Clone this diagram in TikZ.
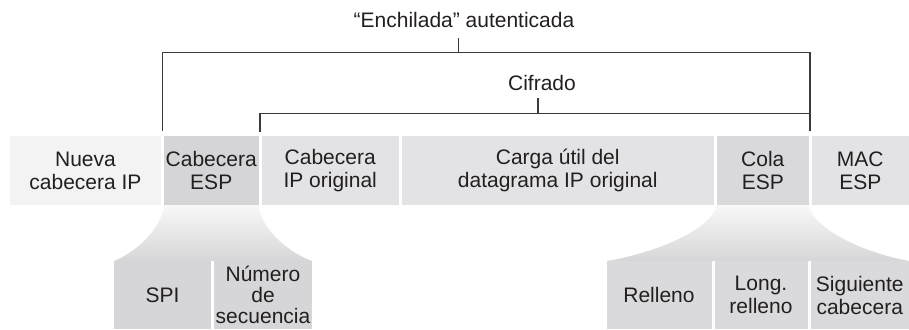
\documentclass[tikz,border=0pt]{standalone}
\usepackage{fontspec}
\setmainfont{Liberation Sans}
\definecolor{cNueva}{HTML}{F3F3F4}
\definecolor{cEsp}{HTML}{D5D5D7}
\definecolor{cLight}{HTML}{E3E3E5}
\definecolor{cCola}{HTML}{D9D9DB}
\definecolor{cSubL}{HTML}{D6D6D8}
\definecolor{cSubR}{HTML}{DADADC}
\definecolor{cTxt}{HTML}{231F20}
\definecolor{cLine}{HTML}{3A3A3A}
\definecolor{cFunTop}{HTML}{F8F8F8}
\definecolor{cFunBot}{HTML}{D6D6D8}
\begin{document}
\begin{tikzpicture}[x=1pt,y=-1pt,
  lbl/.style={font=\fontsize{21}{23}\selectfont, text=cTxt, align=center, inner sep=0pt},
  cell/.style={lbl, minimum height=69pt, outer sep=0pt},
  sub/.style={lbl, minimum height=68pt, outer sep=0pt},
  brk/.style={draw=cLine, line width=1.2pt}]
\useasboundingbox (0,0) rectangle (909,329);
% funnels
\shade[top color=cFunTop, bottom color=cFunBot]
  (164,205) .. controls (161,232) and (132,254) .. (114,261)
  -- (312,261) .. controls (292,254) and (262,232) .. (258.5,205) -- cycle;
\shade[top color=cFunTop, bottom color=cFunBot]
  (717,205) .. controls (710,232) and (650,254) .. (606.5,261)
  -- (909,261) .. controls (870,254) and (815,232) .. (808.5,205) -- cycle;
% main bar
\node[cell, fill=cNueva, minimum width=151pt] (nueva) at (85.5,170.5) {Nueva\\cabecera IP};
\node[cell, fill=cEsp, minimum width=94.5pt] (espcab) at (211.25,170.5) {Cabecera\\ESP};
\node[cell, fill=cLight, minimum width=137.5pt] (ipcab) at (330.25,170.5) {Cabecera\\IP original};
\node[cell, fill=cLight, minimum width=312.5pt] (carga) at (557.75,170.5) {Carga útil del\\datagrama IP original};
\node[cell, fill=cCola, minimum width=91.5pt] (cola) at (762.75,170.5) {Cola\\ESP};
\node[cell, fill=cLight, minimum width=97.5pt] (mac) at (860.25,170.5) {MAC\\ESP};
% sub fields
\node[sub, fill=cSubL, minimum width=97pt] (spi) at (162.5,295) {SPI};
\node[sub, fill=cSubL, minimum width=98pt, font=\fontsize{21}{21}\selectfont] (num) at (263,295) {Número\\de\\secuencia};
\node[sub, fill=cSubR, minimum width=105pt] (rell) at (659,295) {Relleno};
\node[sub, fill=cSubR, minimum width=93pt] (long) at (761,295) {Long.\\relleno};
\node[sub, fill=cSubR, minimum width=98.5pt] (sig) at (859.75,295) {Siguiente\\cabecera};
% brackets
\node[lbl, anchor=base] (auth) at (464,27.5) {“Enchilada” autenticada};
\node[lbl, anchor=base] (cif) at (542,90) {Cifrado};
\coordinate (aL) at (162.5,131);
\coordinate (aR) at (810,131);
\coordinate (aTop) at (458.5,52.7);
\coordinate (cL) at (260,132);
\coordinate (cTop) at (538,113.3);
\draw[brk] (aL) |- (aTop) -| (aR);
\draw[brk] (cL) |- (cTop) -- (aR |- cTop);
\draw[brk] (aTop) -- (458.5,38);
\draw[brk] (cTop) -- (538,98);
\end{tikzpicture}
\end{document}
